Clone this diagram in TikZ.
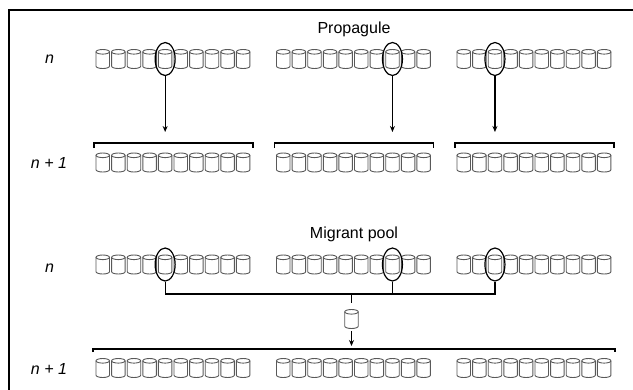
\documentclass[tikz,border=0pt]{standalone}
\usepackage{fontspec}
\setmainfont{Liberation Sans}
\usetikzlibrary{shapes.geometric,arrows.meta}
\begin{document}
\begin{tikzpicture}[x=1pt,y=1pt,
  cylline/.style={draw=black!65,line width=0.9pt},
  sel/.style={ellipse,draw,line width=1.2pt,minimum width=20pt,minimum height=33pt,inner sep=0pt},
  conn/.style={line width=1.3pt},
  arr/.style={line width=1.2pt,-{Stealth[length=6pt,width=5pt]}},
  lbl/.style={font=\fontsize{16}{18}\selectfont,inner sep=0pt,anchor=base},
  cyl/.pic={
    \draw[cylline] (-6.75,7.2) -- (-6.75,-7.2) arc[start angle=180,end angle=360,x radius=6.75,y radius=2.3] -- (6.75,7.2);
    \draw[cylline] (0,7.2) ellipse[x radius=6.75,y radius=2.3];
    \coordinate (-c) at (0,0);
  }]
\useasboundingbox (0,0) rectangle (633,-389);
\begin{scope}
  \clip (0,0) rectangle (633,-389);
  \draw[line width=1.5pt] (9,-10) rectangle (660,-410);
\end{scope}

% cylinders
\foreach \r/\y in {a/59,b/162.5,c/264.5,d/368}
  \foreach \g/\xs in {1/96,2/276.5,3/457}
    \foreach \i in {0,...,9}
      \pic (c\r\g\i) at ({\xs+6.75+\i*15.6},-\y) {cyl};

% labels
\node[lbl] (pl) at (354,-33) {Propagule};
\node[lbl] (ml) at (354,-238) {Migrant pool};
\node[lbl] (na) at (49.5,-63.5) {\itshape n};
\node[lbl] (nb) at (49,-168) {\itshape n + 1};
\node[lbl] (nc) at (49.5,-272) {\itshape n};
\node[lbl] (nd) at (49,-374) {\itshape n + 1};

% top half: propagule
\node[sel] (ea1) at (ca14-c) {};
\node[sel] (ea2) at (ca27-c) {};
\node[sel] (ea3) at (ca32-c) {};
\coordinate (tarr) at (0,-132);
\foreach \k in {1,2,3}
  \draw[arr] (ea\k.south) -- (ea\k.south |- tarr);
\foreach \xs in {96,276.5,457}
  \draw[conn] (\xs-2,-148) -- (\xs-2,-143) -- (\xs+157,-143) -- (\xs+157,-148);

% bottom half: migrant pool
\node[sel] (ec1) at (cc14-c) {};
\node[sel] (ec2) at (cc27-c) {};
\node[sel] (ec3) at (cc32-c) {};
\coordinate (hb) at (0,-294);
\draw[conn] (ec1.south) -- (ec1.south |- hb) -- (ec3.south |- hb) -- (ec3.south);
\draw[conn] (ec2.south) -- (ec2.south |- hb);
\coordinate (tk) at (351.5,-294);
\draw[conn] (tk) -- ++(0,-9) coordinate (tke);
\pic (mig) at (351.5,-319) {cyl};
\draw[arr] ([yshift=-12]mig-c) -- ([yshift=-27]mig-c);
\draw[conn] (93,-352) -- (93,-349) -- (615,-349) -- (615,-352);
\end{tikzpicture}
\end{document}
